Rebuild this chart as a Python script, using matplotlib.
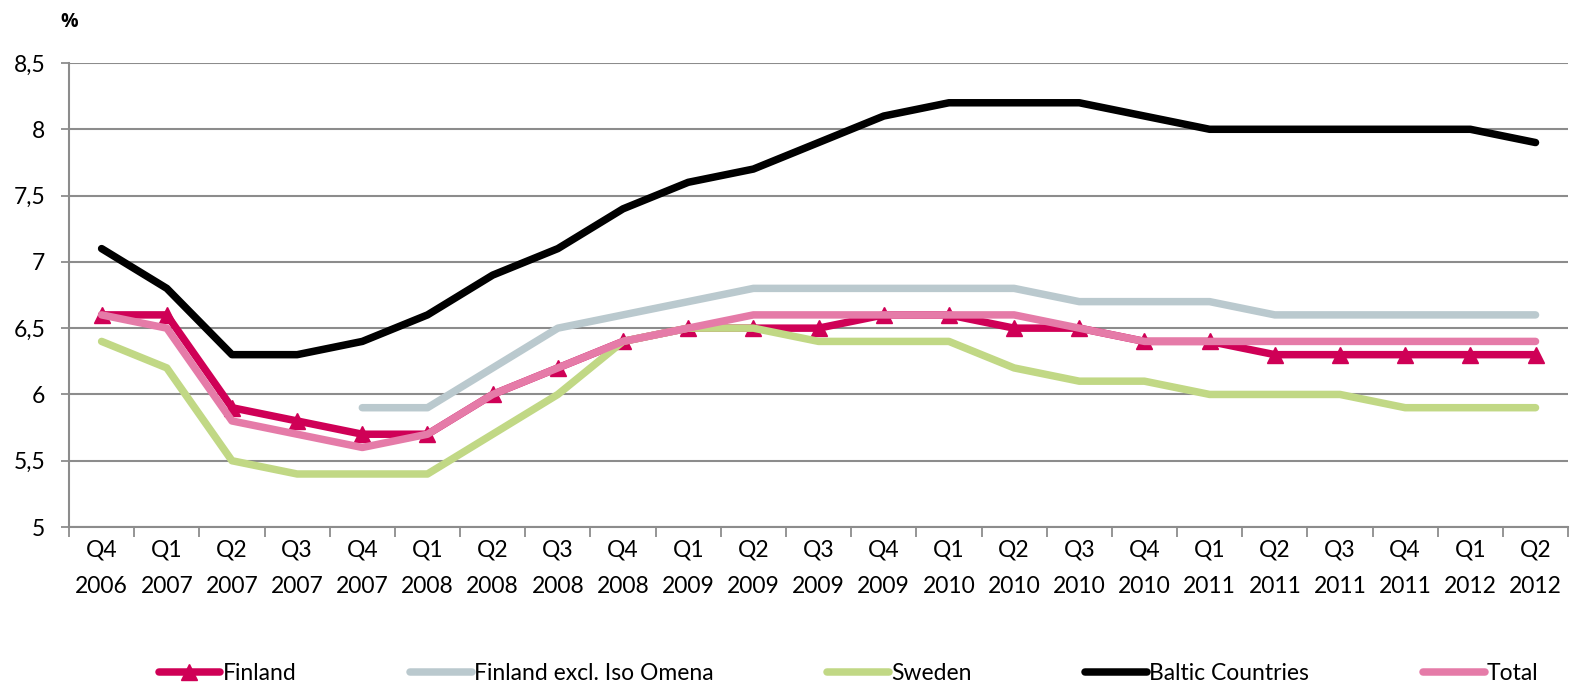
import numpy as np
import matplotlib
matplotlib.use("Agg")
import matplotlib.pyplot as plt
from matplotlib.ticker import FixedLocator, FuncFormatter

plt.rcParams['font.family'] = ['Lato', 'DejaVu Sans']

quarters = ['Q4\n2006', 'Q1\n2007', 'Q2\n2007', 'Q3\n2007', 'Q4\n2007', 'Q1\n2008',
            'Q2\n2008', 'Q3\n2008', 'Q4\n2008', 'Q1\n2009', 'Q2\n2009', 'Q3\n2009',
            'Q4\n2009', 'Q1\n2010', 'Q2\n2010', 'Q3\n2010', 'Q4\n2010', 'Q1\n2011',
            'Q2\n2011', 'Q3\n2011', 'Q4\n2011', 'Q1\n2012', 'Q2\n2012']

finland = [6.6, 6.6, 5.9, 5.8, 5.7, 5.7, 6.0, 6.2, 6.4, 6.5, 6.5, 6.5,
           6.6, 6.6, 6.5, 6.5, 6.4, 6.4, 6.3, 6.3, 6.3, 6.3, 6.3]
finland_excl = [np.nan, np.nan, np.nan, np.nan, 5.9, 5.9, 6.2, 6.5, 6.6, 6.7, 6.8, 6.8,
                6.8, 6.8, 6.8, 6.7, 6.7, 6.7, 6.6, 6.6, 6.6, 6.6, 6.6]
sweden = [6.4, 6.2, 5.5, 5.4, 5.4, 5.4, 5.7, 6.0, 6.4, 6.5, 6.5, 6.4,
          6.4, 6.4, 6.2, 6.1, 6.1, 6.0, 6.0, 6.0, 5.9, 5.9, 5.9]
baltic = [7.1, 6.8, 6.3, 6.3, 6.4, 6.6, 6.9, 7.1, 7.4, 7.6, 7.7, 7.9,
          8.1, 8.2, 8.2, 8.2, 8.1, 8.0, 8.0, 8.0, 8.0, 8.0, 7.9]
total = [6.6, 6.5, 5.8, 5.7, 5.6, 5.7, 6.0, 6.2, 6.4, 6.5, 6.6, 6.6,
         6.6, 6.6, 6.6, 6.5, 6.4, 6.4, 6.4, 6.4, 6.4, 6.4, 6.4]

y_ticks = [5, 5.5, 6, 6.5, 7, 7.5, 8, 8.5]

grid_col = '#8c8c8c'
fs = 16.5
fig = plt.figure(figsize=(15.83, 6.84), dpi=100)
ax = fig.add_axes([0.0436, 0.2295, 0.947, 0.6784])

x = np.arange(len(quarters))
line_kw = dict(lw=5.4, solid_capstyle='round', solid_joinstyle='round')
ax.plot(x, finland, color='#cf0056', marker='^', markersize=12, label='Finland', **line_kw)
ax.plot(x, finland_excl, color='#bac9ce', label='Finland excl. Iso Omena', **line_kw)
ax.plot(x, sweden, color='#c1d885', label='Sweden', **line_kw)
ax.plot(x, baltic, color='black', label='Baltic Countries', **line_kw)
ax.plot(x, total, color='#e57ba8', label='Total', **line_kw)

ax.set_xlim(-0.5, len(quarters) - 0.5)
ax.set_ylim(5, 8.5)
ax.set_yticks(y_ticks)
ax.yaxis.set_major_formatter(FuncFormatter(lambda v, p: f"{v:g}".replace('.', ',')))
ax.grid(axis='y', color=grid_col, lw=1.5)
ax.set_axisbelow(True)

ax.set_xticks(x)
ax.set_xticklabels(quarters, linespacing=1.9)
ax.xaxis.set_minor_locator(FixedLocator(np.arange(-0.5, len(quarters), 1)))
ax.tick_params(axis='x', which='major', length=0, pad=9, labelsize=fs)
ax.tick_params(axis='x', which='minor', length=7, width=1.3, color=grid_col)
ax.tick_params(axis='y', length=6, width=1.3, color=grid_col, pad=11, labelsize=fs)

for side in ['top', 'right']:
    ax.spines[side].set_visible(False)
for side in ['left', 'bottom']:
    ax.spines[side].set_color(grid_col)
    ax.spines[side].set_linewidth(1.5)

fig.text(0.038, 0.968, '%', fontsize=14, fontweight='bold', va='center',
         family=['Open Sans', 'DejaVu Sans'])

fig.legend(loc='center', bbox_to_anchor=(0.536, 0.016), ncol=5, frameon=False,
           fontsize=fs, handlelength=2.7, handletextpad=0.1, columnspacing=4.95)

fig.savefig('out.png', dpi=100)
